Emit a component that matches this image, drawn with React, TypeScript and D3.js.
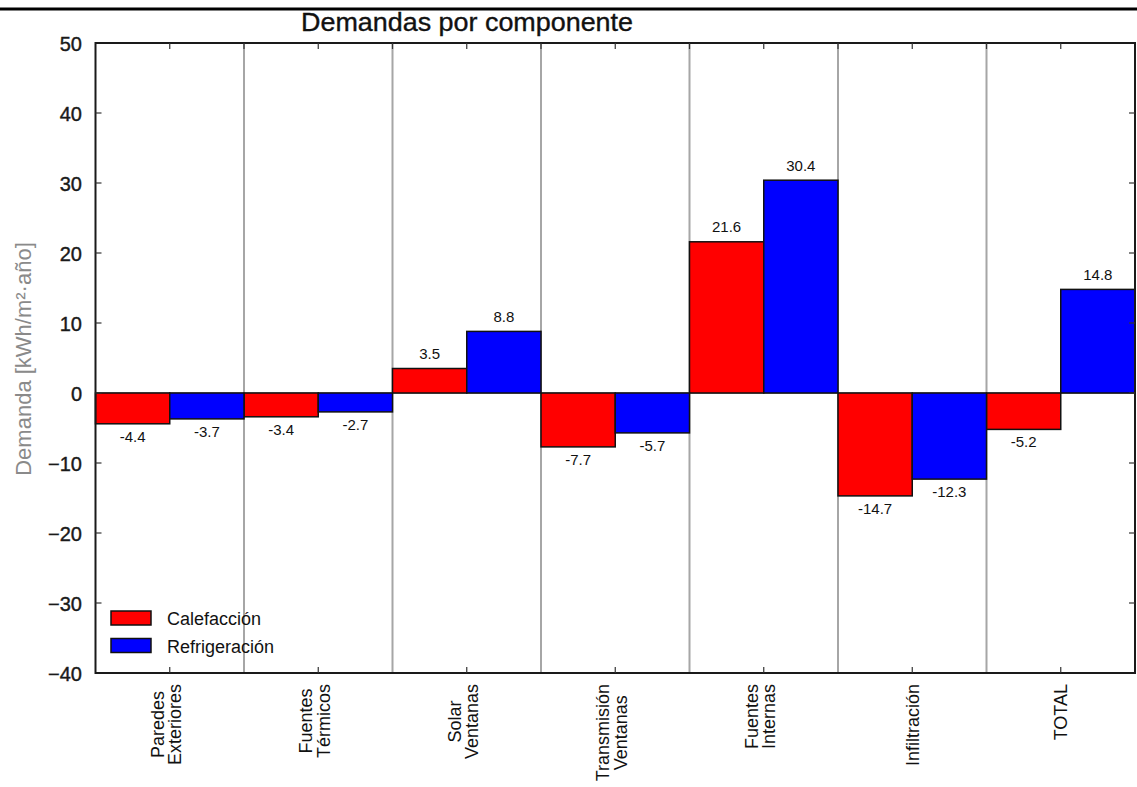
import React from "react";
import * as d3 from "d3";

const categories = [
  "Paredes\nExteriores",
  "Fuentes\nTérmicos",
  "Solar\nVentanas",
  "Transmisión\nVentanas",
  "Fuentes\nInternas",
  "Infiltración",
  "TOTAL",
];
const calefaccion = [-4.4, -3.4, 3.5, -7.7, 21.6, -14.7, -5.2];
const refrigeracion = [-3.7, -2.7, 8.8, -5.7, 30.4, -12.3, 14.8];
const yTicks = [50, 40, 30, 20, 10, 0, -10, -20, -30, -40];
const seriesNames = ["Calefacción", "Refrigeración"];
const seriesColors = ["#ff0000", "#0000ff"];

const W = 1137;
const H = 787;
const FONT = "'Liberation Sans', Arial, Helvetica, sans-serif";

function measure(text: string, font: string): number {
  if (typeof document === "undefined") return text.length * 9;
  const c = document.createElement("canvas");
  const ctx = c.getContext("2d");
  if (!ctx) return text.length * 9;
  ctx.font = font;
  return ctx.measureText(text).width;
}

export default function App() {
  const left = 95.5;
  const right = 1135;
  const top = 43;
  const bottom = 673;

  const x = d3.scaleBand<string>().domain(categories).range([left, right]).padding(0);
  const x1 = d3.scaleBand<string>().domain(seriesNames).range([0, x.bandwidth()]).padding(0);
  const y = d3.scaleLinear().domain([-40, 50]).range([bottom, top]);
  const series = [calefaccion, refrigeracion];
  const fmt = (v: number) => (v < 0 ? "\u2212" + Math.abs(v) : String(v));

  const boundaries = categories.slice(1).map((c) => x(c) as number);
  const centers = categories.map((c) => (x(c) as number) + x.bandwidth() / 2);
  const topTicks = [...centers, ...boundaries];

  const xLabelFont = `18px ${FONT}`;

  return (
    <svg
      width={W}
      height={H}
      style={{ position: "absolute", left: 0, top: 0, display: "block", background: "#fff" }}
      fontFamily={FONT}
    >
      <rect x={0} y={0} width={W} height={H} fill="#fff" />
      {/* top rule */}
      <line x1={0} x2={W} y1={9} y2={9} stroke="#000" strokeWidth={3} />

      {/* title */}
      <text
        x={467}
        y={31}
        fontSize={25}
        textAnchor="middle"
        fill="#111"
        stroke="#111"
        strokeWidth={0.35}
        textLength={332}
        lengthAdjust="spacingAndGlyphs"
      >
        Demandas por componente
      </text>

      {/* grid lines */}
      {boundaries.map((b, i) => (
        <line key={"g" + i} x1={b} x2={b} y1={top} y2={bottom} stroke="#a6a6a6" strokeWidth={2} />
      ))}
      <line x1={left} x2={right} y1={y(0)} y2={y(0)} stroke="#a6a6a6" strokeWidth={2} />

      {/* bars */}
      {series.map((vals, si) =>
        vals.map((v, i) => {
          const bx = (x(categories[i]) as number) + (x1(seriesNames[si]) as number);
          const y0 = y(Math.max(0, v));
          const y1v = y(Math.min(0, v));
          return (
            <rect
              key={`b${si}-${i}`}
              x={bx}
              y={y0}
              width={x1.bandwidth()}
              height={y1v - y0}
              fill={seriesColors[si]}
              stroke="#111"
              strokeWidth={1.5}
            />
          );
        })
      )}

      {/* value labels */}
      {series.map((vals, si) =>
        vals.map((v, i) => {
          const cx = (x(categories[i]) as number) + (x1(seriesNames[si]) as number) + x1.bandwidth() / 2;
          const ly = v >= 0 ? y(v) - 9.5 : y(v) + 18;
          return (
            <text key={`l${si}-${i}`} x={cx} y={ly} fontSize={15} textAnchor="middle" fill="#111">
              {v.toFixed(1)}
            </text>
          );
        })
      )}

      {/* axes frame */}
      <rect x={left} y={top} width={right - left} height={bottom - top} fill="none" stroke="#1a1a1a" strokeWidth={2} />

      {/* y ticks */}
      {yTicks.map((t) => (
        <g key={"yt" + t}>
          {t !== 50 && t !== -40 && (
            <>
              <line x1={left} x2={left + 6} y1={y(t)} y2={y(t)} stroke="#333" strokeWidth={1.2} />
              <line x1={right - 6} x2={right} y1={y(t)} y2={y(t)} stroke="#333" strokeWidth={1.2} />
            </>
          )}
          <text x={82} y={y(t) + 7.5} fontSize={20} textAnchor="end" fill="#1a1a1a" stroke="#1a1a1a" strokeWidth={0.4}>
            {fmt(t)}
          </text>
        </g>
      ))}

      {/* top & bottom ticks */}
      {topTicks.map((tx, i) => (
        <line key={"tt" + i} x1={tx} x2={tx} y1={top} y2={top + 6} stroke="#333" strokeWidth={1.2} />
      ))}
      {centers.map((cx, i) => (
        <line key={"bt" + i} x1={cx} x2={cx} y1={bottom} y2={bottom - 6} stroke="#333" strokeWidth={1.2} />
      ))}

      {/* x labels */}
      {categories.map((c, i) => {
        const lines = c.split("\n");
        const lens = lines.map((l) => measure(l, xLabelFont));
        const maxLen = Math.max(...lens);
        const blockTop = 684;
        const cy = blockTop + maxLen / 2;
        const cx = centers[i];
        const n = lines.length;
        const spacing = 17.5;
        return (
          <g key={"xl" + i}>
            {lines.map((l, li) => {
              const bx = n === 1 ? cx + 6.5 : cx - 6 + li * spacing;
              return (
                <text
                  key={li}
                  transform={`translate(${bx},${cy}) rotate(-90)`}
                  fontSize={18}
                  textAnchor="middle"
                  fill="#111"
                >
                  {l}
                </text>
              );
            })}
          </g>
        );
      })}

      {/* y axis label */}
      <text transform={`translate(31,359) rotate(-90)`} fontSize={22} textAnchor="middle" fill="#8a8a8a">
        Demanda [kWh/m²·año]
      </text>

      {/* legend */}
      {seriesNames.map((s, i) => (
        <g key={"lg" + i}>
          <rect x={111} y={611 + i * 27.5} width={40} height={14} fill={seriesColors[i]} stroke="#111" strokeWidth={1.5} />
          <text x={167} y={625 + i * 27.5} fontSize={18} fill="#111">
            {s}
          </text>
        </g>
      ))}
    </svg>
  );
}
